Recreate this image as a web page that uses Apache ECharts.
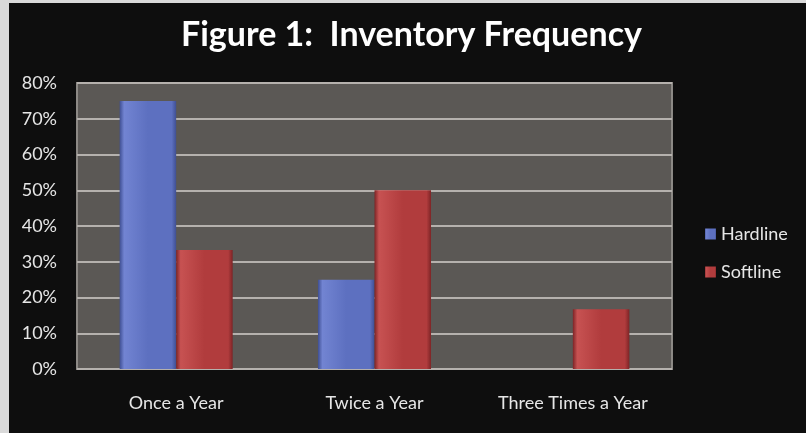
<!DOCTYPE html>
<html>
<head>
<meta charset="utf-8">
<script src="https://cdn.jsdelivr.net/npm/echarts@6/dist/echarts.min.js"></script>
<style>
  html, body { margin: 0; padding: 0; background: #d9d9d9; }
  #chart { position: absolute; left: 9px; top: 3px; width: 797px; height: 430px; background: #0e0e0e; }
</style>
</head>
<body>
<div id="chart"></div>
<script>
const categories = ['Once a Year', 'Twice a Year', 'Three Times a Year']
const hardline = [75, 25, 0]
const softline = [33.3, 50, 16.7]
const yTicks = [0, 10, 20, 30, 40, 50, 60, 70, 80]

const font = 'Lato'

function bevel (light, mid, dark) {
  return new echarts.graphic.LinearGradient(0, 0, 1, 0, [
    { offset: 0, color: dark },
    { offset: 0.08, color: light },
    { offset: 0.5, color: mid },
    { offset: 0.92, color: mid },
    { offset: 1, color: dark }
  ])
}

const chart = echarts.init(document.getElementById('chart'))

chart.setOption({
  backgroundColor: '#0e0e0e',
  animation: false,
  title: {
    text: 'Figure 1:  Inventory Frequency',
    left: 167,
    top: 10,
    textStyle: {
      color: '#ffffff',
      fontFamily: font,
      fontWeight: 'bold',
      fontSize: 34
    }
  },
  legend: {
    orient: 'vertical',
    left: 691,
    top: 217,
    itemWidth: 11,
    itemHeight: 11,
    itemGap: 20,
    icon: 'rect',
    textStyle: {
      color: '#e6e6e6',
      fontFamily: font,
      fontSize: 18
    },
    data: ['Hardline', 'Softline']
  },
  grid: {
    left: 68,
    right: 134,
    top: 80,
    bottom: 64,
    show: true,
    backgroundColor: '#5b5855',
    borderColor: '#8c8985',
    borderWidth: 2
  },
  xAxis: {
    type: 'category',
    data: categories,
    axisLine: { show: false },
    axisTick: { show: false },
    axisLabel: {
      interval: 0,
      color: '#e6e6e6',
      fontFamily: font,
      fontSize: 18,
      margin: 25
    }
  },
  yAxis: {
    type: 'value',
    min: yTicks[0],
    max: yTicks[yTicks.length - 1],
    interval: 10,
    axisLine: { show: false },
    axisTick: { show: false },
    splitLine: { lineStyle: { color: '#b5b1ad', width: 2 } },
    axisLabel: {
      color: '#e6e6e6',
      fontFamily: font,
      fontSize: 18,
      margin: 20,
      formatter: '{value}%'
    }
  },
  series: [
    {
      name: 'Hardline',
      type: 'bar',
      data: hardline,
      barGap: '0%',
      barCategoryGap: '43%',
      itemStyle: {
        color: bevel('#7284d2', '#5d70c0', '#3f4f93')
      }
    },
    {
      name: 'Softline',
      type: 'bar',
      data: softline,
      itemStyle: {
        color: bevel('#c75252', '#b13c3d', '#7d2426')
      }
    }
  ]
})
</script>
</body>
</html>
